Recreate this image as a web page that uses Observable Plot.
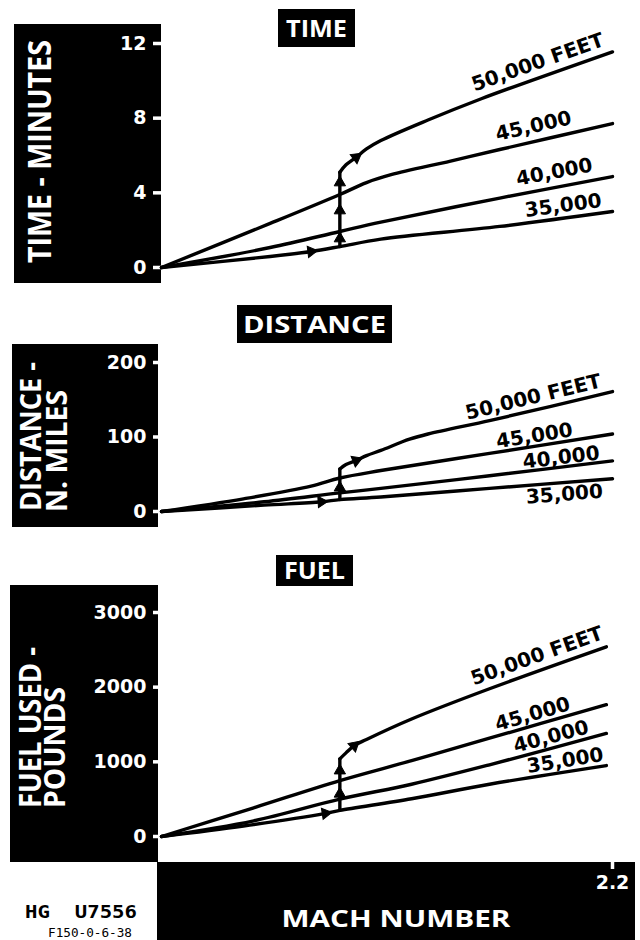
<!DOCTYPE html>
<html><head><meta charset="utf-8">
<script src="https://cdn.jsdelivr.net/npm/d3@7"></script>
<script src="https://cdn.jsdelivr.net/npm/@observablehq/plot@0.6"></script>
<style>
body{margin:0;background:#fff;}
#root{position:relative;width:640px;height:940px;overflow:hidden;background:#fff;}
#root > svg{position:absolute;left:0;}
.panel g[aria-label^="y-axis"] line, .panel g[aria-label^="y-axis"] path,
.panel g[aria-label^="x-axis"] line, .panel g[aria-label^="x-axis"] path {stroke-width:3.5px;stroke:#fff;}
.panel g[aria-label^="y-axis"] text, .panel g[aria-label^="x-axis"] text {font: bold 19px "DejaVu Sans"; fill:#fff;}
</style>
</head><body><div id="root"></div>
<script>
// ---------- data ----------
const machDomain = [0, 2.2];
const machTicks = [2.2];
const altitudeLabels = {"35": "35,000", "40": "40,000", "45": "45,000", "50": "50,000 FEET"};

// TIME - minutes vs Mach
const timeTicks = [0, 4, 8, 12];
const time35 = [[0,0],[0.53,0.59],[0.73,0.86],[0.87,1.12],[1.07,1.52],[1.65,2.2],[2.2,3.0]];
const time40 = [[0,0],[0.53,1.07],[0.87,1.93],[1.07,2.43],[1.65,3.72],[2.2,4.87]];
const time45 = [[0,0],[0.53,2.36],[0.87,3.91],[1.0,4.55],[1.12,4.97],[1.41,5.7],[1.65,6.32],[2.2,7.71]];
const time50 = [[0.87,5.1],[0.9,5.5],[0.95,5.91],[1.0,6.35],[1.07,6.8],[1.3,7.9],[1.56,9.04],[1.8,10.0],[2.2,11.55]];
const timeClimb = [[0.87,1.12],[0.87,5.1]];
const timeClimbArrows = [1.55, 3.05, 4.55];
const timeCruiseArrow = 0.73;
const timeTurnArrow = 0.95;

// DISTANCE - n. miles vs Mach
const distTicks = [0, 100, 200];
const dist35 = [[0,0],[0.5,8.5],[0.78,13],[0.87,16],[1.07,19.5],[1.6,31],[2.2,44]];
const dist40 = [[0,0],[0.5,13],[0.87,25],[1.07,31],[1.6,48],[2.2,68]];
const dist45 = [[0,0],[0.4,17],[0.73,34],[0.87,45],[1.07,55],[1.6,78],[2.2,104]];
const dist50 = [[0.87,57],[0.9,63],[0.95,68.5],[1.0,75],[1.07,82],[1.21,97],[1.3,104],[1.6,122],[1.9,141],[2.2,161]];
const distClimb = [[0.87,16],[0.87,57]];
const distClimbArrows = [32];
const distCruiseArrow = 0.78;
const distTurnArrow = 0.95;

// FUEL USED - pounds vs Mach
const fuelTicks = [0, 1000, 2000, 3000];
const fuel35 = [[0,0],[0.4,140],[0.8,310],[0.87,350],[1.22,505],[1.6,700],[2.17,950]];
const fuel40 = [[0,0],[0.45,210],[0.87,500],[1.22,700],[1.6,960],[2.17,1380]];
const fuel45 = [[0,0],[0.45,385],[0.87,749],[1.22,1016],[1.6,1316],[2.17,1765]];
const fuel50 = [[0.87,1040],[0.9,1120],[0.94,1217],[1.0,1300],[1.22,1574],[1.6,1979],[2.17,2540]];
const fuelClimb = [[0.87,350],[0.87,1040]];
const fuelClimbArrows = [571, 882];
const fuelCruiseArrow = 0.8;
const fuelTurnArrow = 0.94;

// ---------- helpers ----------
function seg(pts, x) {
  for (let i = 1; i < pts.length; i++) if (x <= pts[i][0]) return [pts[i-1], pts[i]];
  return [pts[pts.length-2], pts[pts.length-1]];
}
function yAt(pts, x) {
  const [[x0,y0],[x1,y1]] = seg(pts, x);
  return y0 + (y1 - y0) * (x - x0) / (x1 - x0);
}

const root = document.getElementById("root");

// ---------- background: black boxes and their white captions ----------
const bg = d3.create("svg").attr("width", 640).attr("height", 940).style("top", "0px");
const boxes = [[14,24,147,259],[12,344,146,183],[10,585,148,277],[157,862,478,78],
               [278,9,77,38],[237,305,155,38],[276,555,77,31]];
bg.selectAll("rect").data(boxes).join("rect")
  .attr("x", d => d[0]).attr("y", d => d[1]).attr("width", d => d[2]).attr("height", d => d[3])
  .attr("fill", "#000");
const caps = [
  // text, x, y, rotate, anchor, size, length
  ["TIME", 316.5, 36.5, 0, "middle", 23, 61],
  ["DISTANCE", 314.5, 332.5, 0, "middle", 23, 143],
  ["FUEL", 314.5, 579, 0, "middle", 23, 61],
  ["TIME - MINUTES", 51, 151.5, -90, "middle", 33, 223],
  ["DISTANCE -", 41, 511, -90, "start", 29, 149],
  ["N. MILES", 67, 512, -90, "start", 29, 122],
  ["FUEL USED -", 41, 808, -90, "start", 30, 161],
  ["POUNDS", 65, 808, -90, "start", 28, 121],
  ["MACH NUMBER", 396, 927, 0, "middle", 23, 229]
];
bg.selectAll("text.cap").data(caps).join("text").attr("class", "cap")
  .attr("transform", d => `translate(${d[1]},${d[2]}) rotate(${d[3]})`)
  .attr("text-anchor", d => d[4])
  .attr("font-family", "'Open Sans', sans-serif").attr("font-weight", 700)
  .attr("font-size", d => d[5]).attr("fill", "#fff")
  .attr("textLength", d => d[6]).attr("lengthAdjust", "spacingAndGlyphs")
  .text(d => d[0]);
bg.append("text").attr("x", 25).attr("y", 918).attr("xml:space", "preserve")
  .attr("font-family", "'DejaVu Sans Mono', monospace").attr("font-weight", 700).attr("font-size", 18)
  .attr("textLength", 112).attr("lengthAdjust", "spacingAndGlyphs").attr("fill", "#000")
  .text("HG  U7556");
bg.append("text").attr("x", 48).attr("y", 937)
  .attr("font-family", "'DejaVu Sans Mono', monospace").attr("font-size", 12)
  .attr("textLength", 84).attr("lengthAdjust", "spacingAndGlyphs").attr("fill", "#000")
  .text("F150-0-6-38");
root.appendChild(bg.node());

// ---------- panels ----------
const panels = [
  {top: 0, height: 290, marginTop: 43, marginBottom: 23, inset: 0, yDomain: [0, 12], yTicks: timeTicks,
   series: {"35": time35, "40": time40, "45": time45, "50": time50},
   climb: timeClimb, climbArrows: timeClimbArrows, cruiseX: timeCruiseArrow, turnX: timeTurnArrow,
   labels: [["50", 2.165, -9, "bottom"], ["45", 2.005, -9, "bottom"], ["40", 2.107, -9, "bottom"], ["35", 2.15, -6, "bottom"]],
   xAxis: false},
  {top: 290, height: 250, marginTop: 72, marginBottom: 29, inset: 0, yDomain: [0, 200], yTicks: distTicks,
   series: {"35": dist35, "40": dist40, "45": dist45, "50": dist50},
   climb: distClimb, climbArrows: distClimbArrows, cruiseX: distCruiseArrow, turnX: distTurnArrow,
   labels: [["50", 2.15, -7, "bottom"], ["45", 2.01, -4, "bottom"], ["40", 2.14, -3, "bottom"], ["35", 2.15, 4, "top"]],
   xAxis: false},
  {top: 540, height: 400, marginTop: 72, marginBottom: 78, inset: 26, yDomain: [0, 3000], yTicks: fuelTicks,
   series: {"35": fuel35, "40": fuel40, "45": fuel45, "50": fuel50},
   climb: fuelClimb, climbArrows: fuelClimbArrows, cruiseX: fuelCruiseArrow, turnX: fuelTurnArrow,
   labels: [["50", 2.16, -9, "bottom"], ["45", 2.0, -5, "bottom"], ["40", 2.09, -5, "bottom"], ["35", 2.16, -5, "bottom"]],
   xAxis: true}
];

for (const p of panels) {
  const marginLeft = 161, marginRight = 28;
  const sx = d3.scaleLinear(machDomain, [marginLeft, 640 - marginRight]);
  const sy = d3.scaleLinear(p.yDomain, [p.height - p.marginBottom - p.inset, p.marginTop]);
  const deg = a => a * 180 / Math.PI;

  const rows = Object.entries(p.series).flatMap(([alt, pts]) => pts.map(([x, y]) => ({alt, x, y})));
  const climbRows = p.climb.map(([x, y]) => ({x, y}));

  // arrowheads: on the climb (pointing up), on the 35,000 ft cruise, and on the 50,000 ft turn
  const arrows = p.climbArrows.map(y => ({x: p.climb[0][0], y, rotate: 0}));
  for (const [pts, x] of [[p.series["35"], p.cruiseX], [p.series["50"], p.turnX]]) {
    const [[x0,y0],[x1,y1]] = seg(pts, x);
    const dx = sx(x1) - sx(x0), dy = sy(y1) - sy(y0);
    arrows.push({x, y: yAt(pts, x), rotate: deg(Math.atan2(dx, -dy))});
  }

  const labelRows = p.labels.map(([alt, x, off, anchor]) => {
    const pts = p.series[alt];
    const [[x0,y0],[x1,y1]] = seg(pts, x);
    const ang = deg(Math.atan2(sy(y1) - sy(y0), sx(x1) - sx(x0)));
    return {x, y: sy.invert(sy(yAt(pts, x)) + off), text: altitudeLabels[alt], rotate: ang, anchor};
  });

  const chart = Plot.plot({
    width: 640, height: p.height,
    marginLeft, marginRight, marginTop: p.marginTop, marginBottom: p.marginBottom,
    x: {domain: machDomain, axis: p.xAxis ? "bottom" : null, ticks: machTicks, tickFormat: d3.format(".1f"),
        tickSize: 7, tickPadding: 6, label: null},
    y: {domain: p.yDomain, ticks: p.yTicks, tickSize: 8, tickPadding: 7, label: null, insetBottom: p.inset,
        tickFormat: d => String(d)},
    style: {background: "transparent", color: "white", overflow: "visible"},
    marks: [
      Plot.line(rows, {x: "x", y: "y", z: "alt", stroke: "black", strokeWidth: 3.4, curve: "catmull-rom"}),
      Plot.line(climbRows, {x: "x", y: "y", stroke: "black", strokeWidth: 3.4}),
      Plot.dot(arrows, {x: "x", y: "y", rotate: "rotate", symbol: "triangle", r: 4.2, fill: "black", stroke: "black", strokeWidth: 1}),
      Plot.text(labelRows.filter(d => d.anchor === "bottom"), {x: "x", y: "y", text: "text", rotate: "rotate",
        textAnchor: "end", lineAnchor: "bottom", fontSize: 20, fontWeight: "bold", fontFamily: "DejaVu Sans", fill: "black"}),
      Plot.text(labelRows.filter(d => d.anchor === "top"), {x: "x", y: "y", text: "text", rotate: "rotate",
        textAnchor: "end", lineAnchor: "top", fontSize: 20, fontWeight: "bold", fontFamily: "DejaVu Sans", fill: "black"})
    ]
  });
  chart.classList.add("panel");
  chart.style.position = "absolute";
  chart.style.left = "0px";
  chart.style.top = p.top + "px";
  root.appendChild(chart);
}
</script></body></html>
